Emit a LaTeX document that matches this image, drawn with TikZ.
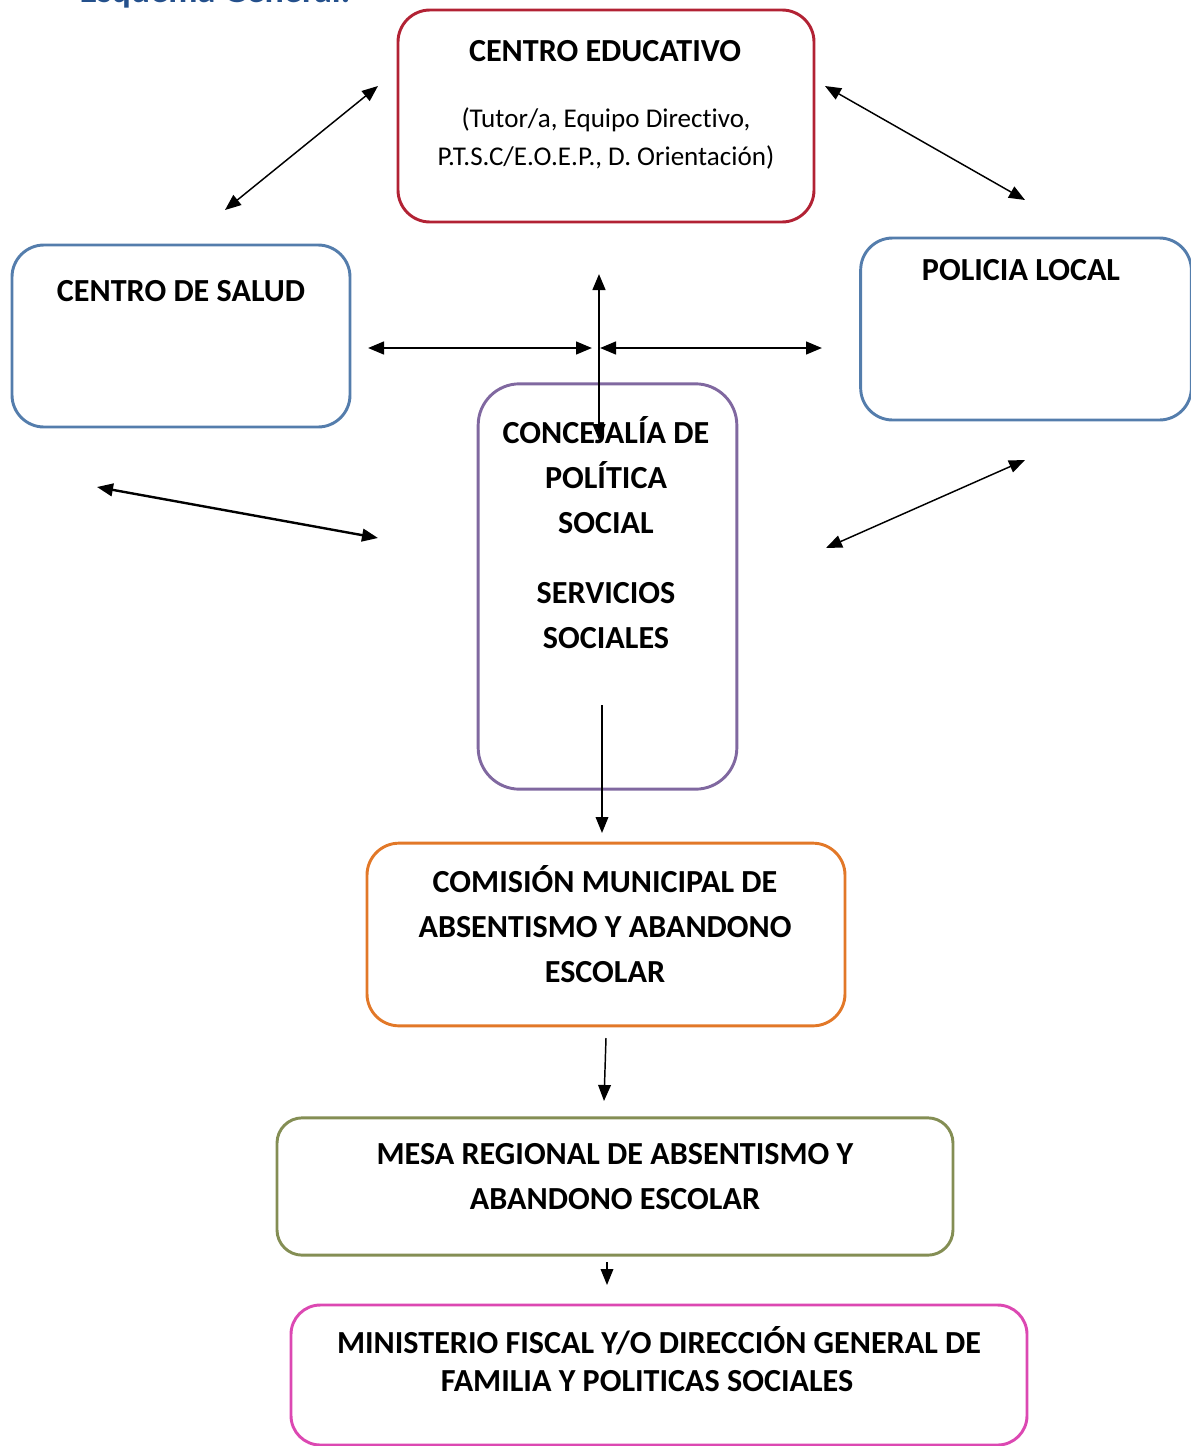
\documentclass[tikz,border=0pt]{standalone}
\usepackage{fontspec}
\setmainfont{Carlito}[Ligatures=NoCommon]
\usetikzlibrary{positioning,arrows.meta}
\definecolor{rojo}{RGB}{178,34,52}
\definecolor{azulcaja}{RGB}{84,125,172}
\definecolor{morado}{RGB}{128,104,160}
\definecolor{naranja}{RGB}{226,120,40}
\definecolor{oliva}{RGB}{132,142,84}
\definecolor{rosa}{RGB}{220,72,178}
\definecolor{azultitulo}{RGB}{36,80,140}

\begin{document}
\begin{tikzpicture}[x=0.75pt,y=-0.75pt,>={Triangle[length=12pt,width=9.5pt]},
  box/.style={draw,line width=2.2pt,rounded corners=24pt,inner sep=0pt},
  lbl/.style={font=\bfseries\fontsize{24.1}{33.75}\selectfont,align=center,inner sep=0pt},
  sublbl/.style={font=\fontsize{20.3}{28.5}\selectfont,align=center,inner sep=0pt},
  link/.style={line width=1.8pt},
  thinlink/.style={line width=1.1pt}]
    \useasboundingbox (0,0) rectangle (1190,1446);

    % titulo cortado arriba
    \node[font=\bfseries\fontsize{27}{30}\selectfont,text=azultitulo,anchor=base west] (0) at (75,2) {Esquema General:};

    % cajas
    \node[box,draw=rojo,minimum width=312pt,minimum height=159pt] (1) at (606,116) {};
    \node[box,draw=azulcaja,minimum width=253.5pt,minimum height=136.5pt] (2) at (181,336) {};
    \node[box,draw=azulcaja,minimum width=248pt,minimum height=136.5pt] (3) at (1026,329) {};
    \node[box,draw=morado,rounded corners=31pt,minimum width=194pt,minimum height=304pt] (4) at (607.5,586.5) {};
    \node[box,draw=naranja,minimum width=358.5pt,minimum height=137pt] (5) at (606,934.5) {};
    \node[box,draw=oliva,rounded corners=19pt,minimum width=507pt,minimum height=103pt] (6) at (615,1186.5) {};
    \node[box,draw=rosa,rounded corners=22pt,minimum width=552pt,minimum height=105pt] (7) at (659,1375) {};

    % textos
    \node[lbl] (1t) at (605,51) {CENTRO EDUCATIVO};
    \node[sublbl] (1s) at (606,138) {(Tutor/a, Equipo Directivo,\\P.T.S.C/E.O.E.P., D. Orientación)};
    \node[lbl] (2t) at (181,291) {CENTRO DE SALUD};
    \node[lbl] (3t) at (1021,270) {POLICIA LOCAL};
    \node[lbl] (4t) at (606,475) {CONCEJALÍA DE\\POLÍTICA\\SOCIAL};
    \node[lbl] (4s) at (606,616) {SERVICIOS\\SOCIALES};
    \node[lbl] (5t) at (605,924) {COMISIÓN MUNICIPAL DE\\ABSENTISMO Y ABANDONO\\ESCOLAR};
    \node[lbl] (6t) at (615,1177) {MESA REGIONAL DE ABSENTISMO Y\\ABANDONO ESCOLAR};
    \node[lbl,font=\bfseries\fontsize{24.1}{28.5}\selectfont] (7t) at (659,1359) {MINISTERIO FISCAL Y/O DIRECCIÓN GENERAL DE\\FAMILIA Y POLITICAS SOCIALES\hspace*{18pt}};

    % puntas de las flechas
    \coordinate (a1) at (378,86);   \coordinate (a2) at (225,210);
    \coordinate (b1) at (825,86);   \coordinate (b2) at (1025,200);
    \coordinate (c1) at (599,274);  \coordinate (c2) at (599,440);
    \coordinate (d1) at (368,348);  \coordinate (d2) at (592,348);
    \coordinate (e1) at (600,348);  \coordinate (e2) at (822,348);
    \coordinate (f1) at (97,487);   \coordinate (f2) at (378,538);
    \coordinate (g1) at (1025,460); \coordinate (g2) at (826,548);
    \coordinate (h1) at (602,705);  \coordinate (h2) at (602,833);
    \coordinate (i1) at (606,1038); \coordinate (i2) at (604,1101);
    \coordinate (j1) at (607,1262); \coordinate (j2) at (607,1285);

    \path[<->,thinlink]
        (a1) edge (a2)
        (b1) edge (b2)
        (g1) edge (g2)
    ;
    \path[<->,link]
        (c1) edge (c2)
        (d1) edge (d2)
        (e1) edge (e2)
        (f1) edge (f2)
    ;
    \path[->,thinlink]
        (h1) edge (h2)
        (i1) edge (i2)
        (j1) edge (j2)
    ;
\end{tikzpicture}
\end{document}
